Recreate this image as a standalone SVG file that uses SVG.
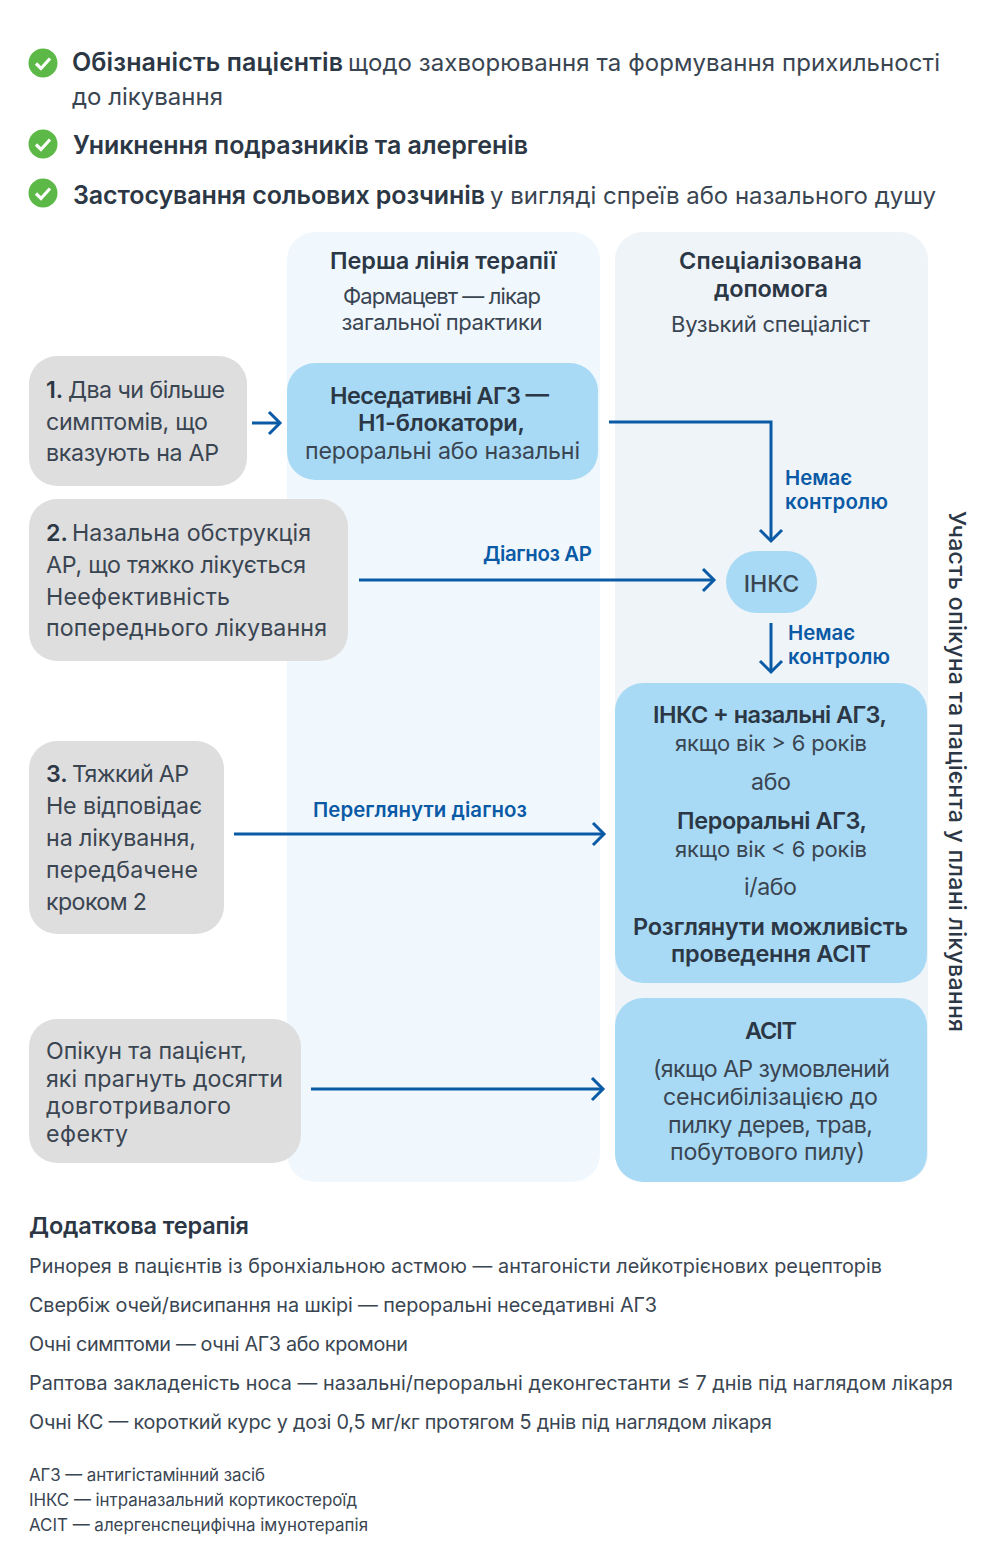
<svg xmlns="http://www.w3.org/2000/svg" width="1000" height="1564" viewBox="0 0 1000 1564">
<style>
text{font-family:"Inter","Noto Sans",sans-serif;fill:#3a4552}
.b{font-weight:600;fill:#2c3745}
.t{font-size:24px}
.tb{font-size:25px;font-weight:600;fill:#2c3745}
.m{font-size:23.2px}
.q{font-size:22px}
.h{font-size:23.5px;font-weight:600;fill:#2c3745}
.c{text-anchor:middle}
.l{font-size:20.4px;font-weight:600;fill:#0a5aa5}
.a{font-size:19.8px}
.s{font-size:16.9px}
.gr{fill:#dedede}
.bl{fill:#a8daf5}
.cn{fill:none;stroke:#0a5aa5;stroke-width:3}
</style>
<defs>
<marker id="ar" markerUnits="userSpaceOnUse" markerWidth="20" markerHeight="30" refX="17" refY="15" orient="auto" viewBox="0 0 20 30"><path d="M6 4L17 15L6 26" fill="none" stroke="#0a5aa5" stroke-width="3"/></marker>
<g id="chk"><circle r="14.5" fill="#5cb947"/><path d="M-7 0.5L-2 5.5L7 -4.5" fill="none" stroke="#fff" stroke-width="3.2"/></g>
</defs>
<rect width="1000" height="1564" fill="#fff"/>
<g id="bullets">
<use href="#chk" x="43" y="63"/><use href="#chk" x="43" y="144"/><use href="#chk" x="43" y="193"/>
<text x="72" y="71" class="tb" textLength="271">Обізнаність пацієнтів</text>
<text x="348" y="71" class="t" textLength="592">щодо захворювання та формування прихильності</text>
<text x="72" y="105" class="t" textLength="151">до лікування</text>
<text x="73" y="154" class="tb" textLength="455">Уникнення подразників та алергенів</text>
<text x="73" y="204" class="tb" textLength="412">Застосування сольових розчинів</text>
<text x="490" y="204" class="t" textLength="446">у вигляді спреїв або назального душу</text>
</g>
<g id="col1"><rect x="287" y="232" width="313" height="950" rx="28" fill="#f0f8fe"/>
<text x="443" y="269" class="h c">Перша лінія терапії</text>
<text x="442" y="304" class="q c" textLength="198">Фармацевт — лікар</text>
<text x="442" y="330" class="q c" textLength="201">загальної практики</text></g>
<g id="col2"><rect x="615" y="232" width="313" height="950" rx="28" fill="#eff4f9"/>
<text x="770.500" y="269" class="h c" textLength="183">Спеціалізована</text>
<text x="771" y="297" class="h c" textLength="114">допомога</text>
<text x="770.500" y="332" class="q c" textLength="199">Вузький спеціаліст</text></g>
<g id="n1"><rect x="29" y="356" width="218" height="130" rx="28" class="gr"/>
<text x="46" y="398" class="m b">1.</text>
<text x="68" y="398" class="m" textLength="157">Два чи більше</text>
<text x="46" y="430" class="m" textLength="162">симптомів, що</text>
<text x="46" y="461" class="m" textLength="173">вказують на АР</text></g>
<g id="n2"><rect x="287" y="363" width="311" height="117" rx="28" class="bl"/>
<text x="439.500" y="404" class="h c" textLength="219">Неседативні АГЗ —</text>
<text x="441.500" y="431" class="h c" textLength="167">Н1-блокатори,</text>
<text x="442.500" y="459" class="m c" textLength="275">пероральні або назальні</text></g>
<g id="n3"><rect x="29" y="499" width="319" height="162" rx="28" class="gr"/>
<text x="46" y="541" class="m b">2.</text>
<text x="72" y="541" class="m" textLength="239">Назальна обструкція</text>
<text x="46" y="573" class="m" textLength="260">АР, що тяжко лікується</text>
<text x="46" y="605" class="m" textLength="184">Неефективність</text>
<text x="46" y="636" class="m" textLength="281">попереднього лікування</text></g>
<g id="n4"><rect x="726" y="551" width="91" height="62" rx="31" class="bl"/>
<text x="771.500" y="592" class="m c" style="font-weight:500">ІНКС</text></g>
<g id="n5"><rect x="29" y="741" width="195" height="193" rx="28" class="gr"/>
<text x="46" y="782" class="m b">3.</text>
<text x="72" y="782" class="m" textLength="117">Тяжкий АР</text>
<text x="46" y="814" class="m" textLength="156">Не відповідає</text>
<text x="46" y="846" class="m" textLength="150">на лікування,</text>
<text x="46" y="878" class="m" textLength="152">передбачене</text>
<text x="46" y="910" class="m" textLength="101">кроком 2</text></g>
<g id="n6"><rect x="615" y="683" width="312" height="300" rx="28" class="bl"/>
<text x="770" y="723" class="h c" textLength="234">ІНКС + назальні АГЗ,</text>
<text x="771" y="751" class="q c" textLength="192">якщо вік &gt; 6 років</text>
<text x="771" y="790" class="m c" textLength="40">або</text>
<text x="772" y="829" class="h c" textLength="190">Пероральні АГЗ,</text>
<text x="771" y="857" class="q c" textLength="192">якщо вік &lt; 6 років</text>
<text x="770.500" y="895" class="m c" textLength="53">і/або</text>
<text x="770.500" y="935" class="h c" textLength="275">Розглянути можливість</text>
<text x="771" y="962" class="h c" textLength="200">проведення АСІТ</text></g>
<g id="n7"><rect x="29" y="1019" width="272" height="144" rx="28" class="gr"/>
<text x="46" y="1059" class="m" textLength="201">Опікун та пацієнт,</text>
<text x="46" y="1087" class="m" textLength="237">які прагнуть досягти</text>
<text x="46" y="1114" class="m" textLength="185">довготривалого</text>
<text x="46" y="1142" class="m" textLength="82">ефекту</text></g>
<g id="n8"><rect x="615" y="998" width="312" height="184" rx="28" class="bl"/>
<text x="771" y="1039" class="h c" textLength="52">АСІТ</text>
<text x="771.500" y="1077" class="m c" textLength="237">(якщо АР зумовлений</text>
<text x="770.500" y="1105" class="m c" textLength="215">сенсибілізацією до</text>
<text x="770.500" y="1133" class="m c" textLength="205">пилку дерев, трав,</text>
<text x="767.500" y="1160" class="m c" textLength="195">побутового пилу)</text></g>
<g id="connectors">
<path class="cn" d="M252 423H280" marker-end="url(#ar)"/>
<path class="cn" d="M609 422H771V541" marker-end="url(#ar)"/>
<path class="cn" d="M359 580H714" marker-end="url(#ar)"/>
<path class="cn" d="M771 623V672" marker-end="url(#ar)"/>
<path class="cn" d="M234 834H604" marker-end="url(#ar)"/>
<path class="cn" d="M311 1089H603" marker-end="url(#ar)"/>
<text x="785" y="485" class="l">Немає</text>
<text x="785" y="509" class="l" textLength="103">контролю</text>
<text x="788" y="640" class="l">Немає</text>
<text x="788" y="664" class="l" textLength="102">контролю</text>
<text x="483" y="561" class="l" textLength="109">Діагноз АР</text>
<text x="313" y="817" class="l" textLength="214">Переглянути діагноз</text>
</g>
<g id="side"><text transform="translate(949 511) rotate(90)" style="font-size:23px;font-weight:500;fill:#2c3745" textLength="521">Участь опікуна та пацієнта у плані лікування</text></g>
<g id="extra">
<text x="29" y="1234" class="h" textLength="220">Додаткова терапія</text>
<text x="29" y="1273" class="a" textLength="853">Ринорея в пацієнтів із бронхіальною астмою — антагоністи лейкотрієнових рецепторів</text>
<text x="29" y="1312" class="a" textLength="628">Свербіж очей/висипання на шкірі — пероральні неседативні АГЗ</text>
<text x="29" y="1351" class="a" textLength="379">Очні симптоми — очні АГЗ або кромони</text>
<text x="29" y="1390" class="a" textLength="924">Раптова закладеність носа — назальні/пероральні деконгестанти ≤ 7 днів під наглядом лікаря</text>
<text x="29" y="1429" class="a" textLength="743">Очні КС — короткий курс у дозі 0,5 мг/кг протягом 5 днів під наглядом лікаря</text>
<text x="29" y="1481" class="s" textLength="236">АГЗ — антигістамінний засіб</text>
<text x="29" y="1506" class="s" textLength="328">ІНКС — інтраназальний кортикостероїд</text>
<text x="29" y="1531" class="s" textLength="339">АСІТ — алергенспецифічна імунотерапія</text>
</g>
</svg>
